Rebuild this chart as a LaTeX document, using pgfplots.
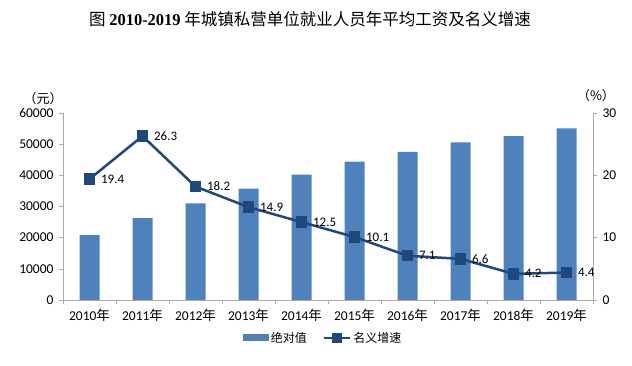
\documentclass[border=0pt]{standalone}
\usepackage{fontspec}
\setmainfont{Carlito}
\newfontfamily\cjk{Noto Sans CJK SC}
\newfontfamily\tnr{Liberation Serif}
\usepackage{pgfplots}
\pgfplotsset{compat=1.18}
\definecolor{barblue}{RGB}{79,129,189}
\definecolor{lineblue}{RGB}{31,73,125}
\definecolor{axgray}{RGB}{170,170,170}
\begin{document}
\begin{tikzpicture}[x=1pt,y=1pt]
\useasboundingbox (0,0) rectangle (632,366);
\node at (310,347) {\fontsize{16.5}{18}\selectfont{\cjk 图} {\tnr\bfseries 2010-2019} {\cjk 年城镇私营单位就业人员年平均工资及名义增速}};
\node at (43,267) {\fontsize{13}{15}\selectfont\cjk （元）};
\node at (596,270) {\fontsize{13}{15}\selectfont\cjk （\%）};
\begin{axis}[
  at={(63pt,66pt)}, anchor=south west,
  scale only axis, width=530pt, height=187pt,
  xmin=-0.5, xmax=9.5, ymin=0, ymax=60000,
  xtick={0,...,9},
  xticklabels={2010{\cjk 年},2011{\cjk 年},2012{\cjk 年},2013{\cjk 年},2014{\cjk 年},2015{\cjk 年},2016{\cjk 年},2017{\cjk 年},2018{\cjk 年},2019{\cjk 年}},
  major x tick style={draw=none},
  minor xtick={-0.5,0.5,...,9.5},
  ytick={0,10000,...,60000},
  scaled y ticks=false,
  yticklabel style={/pgf/number format/fixed, /pgf/number format/set thousands separator={}, /pgf/number format/assume math mode=true, /tikz/xshift=-2pt},
  tick align=outside, major tick length=4pt, minor tick length=4pt,
  tick style={axgray, thin},
  axis x line*=bottom, axis y line*=left,
  axis line style={-, axgray, thin},
  ticklabel style={font=\fontsize{13.5}{15}\selectfont, black},
  xticklabel style={yshift=-2pt},
  legend style={at={(0.4906,-0.203)}, anchor=center, draw=none, legend columns=2,
    font=\fontsize{12}{14}\selectfont\cjk, /tikz/every even column/.append style={column sep=14pt}},
]
\addplot[ybar, bar width=20pt, fill=barblue, draw=none,
  legend image code/.code={\fill[barblue] (0pt,-3.5pt) rectangle (26pt,3.5pt);}]
  coordinates {(0,20800) (1,26300) (2,31000) (3,35700) (4,40200) (5,44400) (6,47500) (7,50600) (8,52600) (9,55100)};
\addlegendentry{绝对值}
\addlegendimage{lineblue, line width=2.5pt, mark=square*, mark size=4pt,
  legend image code/.code={\draw[mark repeat=2,mark phase=2] plot coordinates {(0pt,0pt) (13pt,0pt) (26pt,0pt)};}}
\addlegendentry{名义增速}
\end{axis}
\begin{axis}[
  at={(63pt,66pt)}, anchor=south west,
  scale only axis, width=530pt, height=187pt,
  xmin=-0.5, xmax=9.5, ymin=0, ymax=30,
  ytick={0,10,20,30},
  axis x line=none, axis y line*=right,
  axis line style={-, axgray, thin},
  tick align=outside, major tick length=4pt,
  tick style={axgray, thin},
  yticklabel style={/pgf/number format/assume math mode=true, /tikz/xshift=2pt},
  ticklabel style={font=\fontsize{13.5}{15}\selectfont, black},
]
\addplot[lineblue, line width=2.5pt, mark=square*, mark size=4.5pt,
  nodes near coords={\pgfmathprintnumber[fixed,fixed zerofill,precision=1,assume math mode=true]{\pgfplotspointmeta}},
  nodes near coords style={anchor=west, xshift=7pt, font=\fontsize{13}{15}\selectfont, black}]
  coordinates {(0,19.4) (1,26.3) (2,18.2) (3,14.9) (4,12.5) (5,10.1) (6,7.1) (7,6.6) (8,4.2) (9,4.4)};
\end{axis}
\end{tikzpicture}
\end{document}
